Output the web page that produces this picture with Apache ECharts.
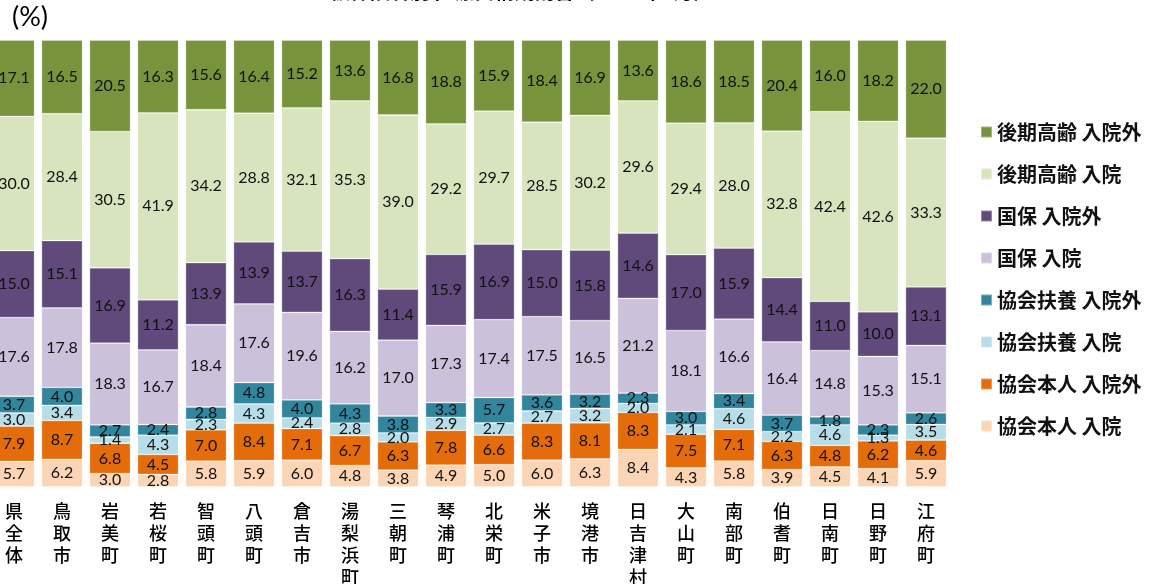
<!DOCTYPE html>
<html>
<head>
<meta charset="utf-8">
<script src="https://cdn.jsdelivr.net/npm/echarts@6/dist/echarts.min.js"></script>
<style>
html,body{margin:0;padding:0;background:#fff;}
#c{width:1150px;height:584px;}
</style>
</head>
<body>
<div id="c"></div>
<script>
const categories = ['県全体','鳥取市','岩美町','若桜町','智頭町','八頭町','倉吉市','湯梨浜町','三朝町','琴浦町','北栄町','米子市','境港市','日吉津村','大山町','南部町','伯耆町','日南町','日野町','江府町'];

// series, stacked bottom to top
const kyokaiHoninNyuin    = [5.7,6.2,3.0,2.8,5.8,5.9,6.0,4.8,3.8,4.9,5.0,6.0,6.3,8.4,4.3,5.8,3.9,4.5,4.1,5.9];
const kyokaiHoninGairai   = [7.9,8.7,6.8,4.5,7.0,8.4,7.1,6.7,6.3,7.8,6.6,8.3,8.1,8.3,7.5,7.1,6.3,4.8,6.2,4.6];
const kyokaiFuyoNyuin     = [3.0,3.4,1.4,4.3,2.3,4.3,2.4,2.8,2.0,2.9,2.7,2.7,3.2,2.0,2.1,4.6,2.2,4.6,1.3,3.5];
const kyokaiFuyoGairai    = [3.7,4.0,2.7,2.4,2.8,4.8,4.0,4.3,3.8,3.3,5.7,3.6,3.2,2.3,3.0,3.4,3.7,1.8,2.3,2.6];
const kokuhoNyuin         = [17.6,17.8,18.3,16.7,18.4,17.6,19.6,16.2,17.0,17.3,17.4,17.5,16.5,21.2,18.1,16.6,16.4,14.8,15.3,15.1];
const kokuhoGairai        = [15.0,15.1,16.9,11.2,13.9,13.9,13.7,16.3,11.4,15.9,16.9,15.0,15.8,14.6,17.0,15.9,14.4,11.0,10.0,13.1];
const kokiNyuin           = [30.0,28.4,30.5,41.9,34.2,28.8,32.1,35.3,39.0,29.2,29.7,28.5,30.2,29.6,29.4,28.0,32.8,42.4,42.6,33.3];
const kokiGairai          = [17.1,16.5,20.5,16.3,15.6,16.4,15.2,13.6,16.8,18.8,15.9,18.4,16.9,13.6,18.6,18.5,20.4,16.0,18.2,22.0];

const seriesNames = ['協会本人 入院','協会本人 入院外','協会扶養 入院','協会扶養 入院外','国保 入院','国保 入院外','後期高齢 入院','後期高齢 入院外'];
const seriesData = [kyokaiHoninNyuin,kyokaiHoninGairai,kyokaiFuyoNyuin,kyokaiFuyoGairai,kokuhoNyuin,kokuhoGairai,kokiNyuin,kokiGairai];
const colors = ['#FCD5B5','#E46C0A','#B7DEE8','#31859C','#CCC1DA','#604A7B','#D7E4BD','#77933C'];

const totals = categories.map((_, i) => seriesData.reduce((s, arr) => s + arr[i], 0));

const chart = echarts.init(document.getElementById('c'));
chart.setOption({
  animation: false,
  backgroundColor: '#fff',
  grid: {left: -10, right: 200, top: 40, bottom: 97, containLabel: false, outerBoundsMode: 'none'},
  xAxis: {
    type: 'category',
    data: categories,
    axisLine: {show: false},
    axisTick: {show: false},
    axisLabel: {
      interval: 0,
      margin: 13,
      fontFamily: 'Noto Sans CJK JP',
      fontSize: 18,
      fontWeight: 500,
      lineHeight: 22,
      color: '#000',
      formatter: v => v.split('').join('\n')
    }
  },
  yAxis: {
    type: 'value', min: 0, max: 100, show: false,
    splitLine: {show: false}
  },
  legend: {
    orient: 'vertical',
    left: 975,
    top: 117,
    itemWidth: 11,
    itemHeight: 11,
    itemGap: 22,
    icon: 'rect',
    data: seriesNames.slice().reverse(),
    textStyle: {fontFamily: 'Noto Sans CJK JP', fontSize: 20, fontWeight: 'bold', color: '#111', lineHeight: 20}
  },
  graphic: [
    {type: 'text', left: 12, top: 4, style: {text: '(%)', font: '27px Lato', fill: '#000'}},
    {type: 'text', left: 330, top: -19, style: {text: '被保険者別 医療費構成割合（2019年5月）', font: 'bold 20px "Noto Sans CJK JP"', fill: '#000'}}
  ],
  series: seriesNames.map((name, k) => ({
    name: name,
    type: 'bar',
    stack: 'total',
    barWidth: 41,
    itemStyle: {color: colors[k], borderColor: 'rgba(255,255,255,0.35)', borderWidth: 0.8},
    label: {
      show: true,
      position: 'inside',
      fontFamily: 'Lato',
      fontSize: 16,
      color: '#111',
      formatter: p => seriesData[k][p.dataIndex].toFixed(1)
    },
    data: seriesData[k].map((v, i) => v / totals[i] * 100)
  }))
});
</script>
</body>
</html>
